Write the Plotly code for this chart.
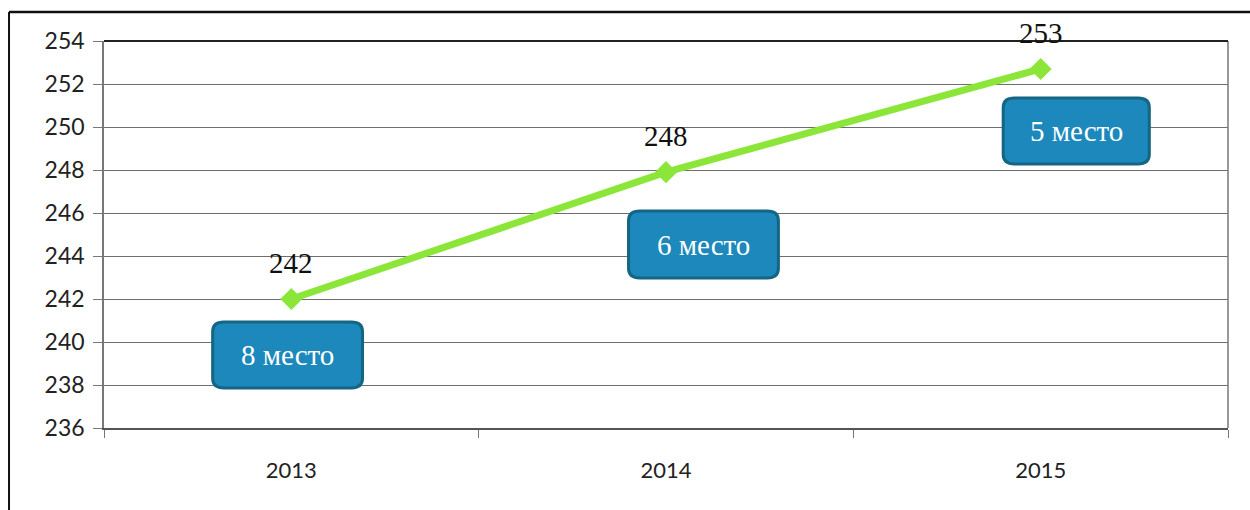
import plotly.graph_objects as go

years = ["2013", "2014", "2015"]
values = [242.0, 247.9, 252.7]
places = ["8 место", "6 место", "5 место"]
y_ticks = [236, 238, 240, 242, 244, 246, 248, 250, 252, 254]

# box geometry (relative to category index / value axis)
box_dx = [(-0.21, 0.19), (-0.10, 0.30), (-0.10, 0.29)]
box_y = [(237.86, 240.93), (242.98, 246.09), (248.28, 251.35)]

GREEN = "#8ce63a"
BOX_FILL = "#1c88bb"
BOX_LINE = "#156585"

fig = go.Figure()
fig.add_trace(go.Scatter(
    x=years, y=values, mode="lines+markers",
    line=dict(color=GREEN, width=7),
    marker=dict(symbol="diamond", size=17, color=GREEN),
    hoverinfo="skip", showlegend=False,
))

shapes = []
annotations = []
for i, (yr, v, p) in enumerate(zip(years, values, places)):
    annotations.append(dict(
        x=i, y=v, xref="x", yref="y", text=f"{v:.0f}", showarrow=False, yshift=36,
        font=dict(family="Liberation Serif", size=29, color="#111111"),
    ))
    x0, x1 = i + box_dx[i][0], i + box_dx[i][1]
    y0, y1 = box_y[i]
    rx, ry = 0.03, 0.45
    path = (f"M {x0+rx},{y0} L {x1-rx},{y0} Q {x1},{y0} {x1},{y0+ry} "
            f"L {x1},{y1-ry} Q {x1},{y1} {x1-rx},{y1} L {x0+rx},{y1} "
            f"Q {x0},{y1} {x0},{y1-ry} L {x0},{y0+ry} Q {x0},{y0} {x0+rx},{y0} Z")
    shapes.append(dict(type="path", path=path, xref="x", yref="y",
                       fillcolor=BOX_FILL, line=dict(color=BOX_LINE, width=3),
                       layer="above"))
    annotations.append(dict(
        x=(x0 + x1) / 2, y=(y0 + y1) / 2, xref="x", yref="y", text=p, showarrow=False,
        font=dict(family="Liberation Serif", size=29, color="white"),
    ))

# plot area border right & top
shapes.append(dict(type="line", xref="paper", yref="paper", x0=1, x1=1, y0=0, y1=1,
                   line=dict(color="#777777", width=1.5)))
shapes.append(dict(type="line", xref="paper", yref="paper", x0=0, x1=1, y0=1, y1=1,
                   line=dict(color="#222222", width=2)))
# outer frame
shapes.append(dict(type="line", xref="paper", yref="paper", x0=-0.0845, x1=1.03, y0=1.075, y1=1.075,
                   line=dict(color="#111111", width=2.5)))
shapes.append(dict(type="line", xref="paper", yref="paper", x0=-0.0845, x1=-0.0845, y0=1.075, y1=-0.23,
                   line=dict(color="#111111", width=2)))

fig.update_layout(
    width=1250, height=510,
    margin=dict(l=104, r=22, t=41, b=82),
    paper_bgcolor="white", plot_bgcolor="white",
    shapes=shapes, annotations=annotations,
    xaxis=dict(type="category", range=[-0.5, 2.5], tickson="boundaries",
               ticks="outside", ticklen=8, tickcolor="#777777",
               showgrid=False, showline=True, linecolor="#555555", linewidth=1.5,
               tickfont=dict(family="Lato", size=22, color="#222222"),
               ticklabelstandoff=22, fixedrange=True),
    yaxis=dict(range=[236, 254], tickvals=y_ticks, ticks="outside", ticklen=9,
               tickcolor="#777777", showgrid=True, gridcolor="#6e6e6e", gridwidth=1.2,
               showline=True, linecolor="#777777", linewidth=1.5, zeroline=False,
               tickfont=dict(family="Lato", size=23, color="#222222"),
               ticklabelstandoff=4, fixedrange=True),
)

fig.write_html("out.html", config={"displayModeBar": False},
               post_script="document.body.style.margin='0';")
